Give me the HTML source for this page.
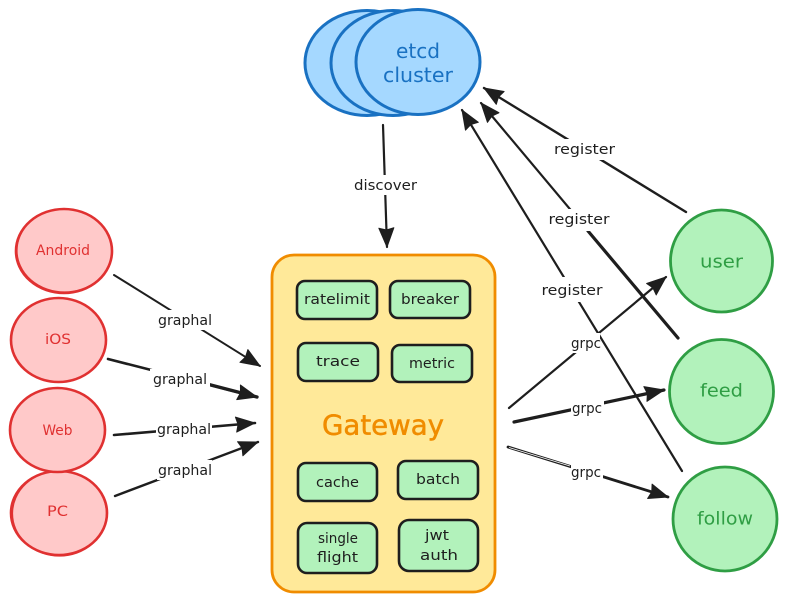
<!DOCTYPE html>
<html><head><meta charset="utf-8"><style>
html,body{margin:0;padding:0;background:#fff}
svg{display:block}
text{font-family:"DejaVu Sans","Liberation Sans",sans-serif;text-anchor:middle;dominant-baseline:central;transform:translateY(1px)}
.l{font-size:14px;fill:#1e1e1e}
.b{font-size:14.5px;fill:#1e1e1e}
.box{fill:#b2f2bb;stroke:#1e1e1e;stroke-width:2.6}
.red{fill:#ffc9c9;stroke:#e03131;stroke-width:2.6}
.redt{fill:#e03131;font-size:14.5px}
.grn{fill:#b2f2bb;stroke:#2f9e44;stroke-width:2.8}
.grnt{fill:#2f9e44;font-size:18px}
.blu{fill:#a5d8ff;stroke:#1971c2;stroke-width:3}
.blut{fill:#1971c2;font-size:20px}
.a{stroke:#1e1e1e;fill:none;stroke-linecap:round}
.sk{fill:none;stroke-width:1.2}
</style></head><body>
<svg width="785" height="602" viewBox="0 0 785 602" xmlns="http://www.w3.org/2000/svg">
<rect width="785" height="602" fill="#fff"/>
<defs>
<marker id="m" markerUnits="userSpaceOnUse" markerWidth="24" markerHeight="20" refX="21" refY="10" orient="auto"><path d="M2,2.500 L21,10 L2,17.500 L4,10 Z" fill="#1e1e1e" stroke="#1e1e1e" stroke-width="1" stroke-linejoin="round"/></marker>
</defs>

<!-- etcd cluster -->
<ellipse class="blu" cx="367" cy="63" rx="62" ry="52.5"/>
<ellipse class="blu" cx="393" cy="63" rx="62" ry="52.5"/>
<ellipse class="blu" cx="418" cy="62" rx="62" ry="52.5"/>
<text class="blut" x="418" y="50" textLength="44" lengthAdjust="spacingAndGlyphs">etcd</text>
<text class="blut" x="418" y="74" textLength="70" lengthAdjust="spacingAndGlyphs">cluster</text>

<!-- clients -->
<ellipse class="red" cx="64" cy="251" rx="48" ry="42"/>
<ellipse class="sk" stroke="#e03131" cx="64.500" cy="250.500" rx="47.500" ry="41.500"/>
<ellipse class="red" cx="58.500" cy="340" rx="47.500" ry="42"/>
<ellipse class="red" cx="59" cy="513" rx="48" ry="42"/>
<ellipse class="sk" stroke="#e03131" cx="59.500" cy="513.500" rx="47" ry="42.500"/>
<ellipse class="red" cx="57.500" cy="430" rx="47.500" ry="42"/>
<text class="redt" x="63" y="250" textLength="54" lengthAdjust="spacingAndGlyphs">Android</text>
<text class="redt" x="58" y="339" textLength="26" lengthAdjust="spacingAndGlyphs">iOS</text>
<text class="redt" x="57.500" y="430" textLength="30" lengthAdjust="spacingAndGlyphs">Web</text>
<text class="redt" x="57.500" y="511" textLength="21" lengthAdjust="spacingAndGlyphs">PC</text>

<!-- services -->
<circle class="grn" cx="721.500" cy="261" r="51"/>
<circle class="grn" cx="721.500" cy="391.500" r="52"/>
<circle class="grn" cx="725" cy="519" r="52"/>
<text class="grnt" x="721.500" y="261" textLength="43" lengthAdjust="spacingAndGlyphs">user</text>
<text class="grnt" x="721.500" y="390" textLength="43" lengthAdjust="spacingAndGlyphs">feed</text>
<text class="grnt" x="725" y="518" textLength="56" lengthAdjust="spacingAndGlyphs">follow</text>

<!-- gateway -->
<rect x="272" y="255" width="223" height="337" rx="22" fill="#ffe999" stroke="#f08c00" stroke-width="2.800"/>
<rect class="box" x="297" y="281" width="80" height="38" rx="8"/>
<rect class="box" x="390" y="281" width="80" height="37" rx="8"/>
<rect class="box" x="298" y="343" width="80" height="38" rx="8"/>
<rect class="box" x="392" y="345" width="80" height="37" rx="8"/>
<rect class="box" x="298" y="463" width="79" height="38" rx="8"/>
<rect class="box" x="398" y="461" width="80" height="38" rx="8"/>
<rect class="box" x="298" y="523" width="79" height="50" rx="9"/>
<rect class="box" x="399" y="520" width="79" height="51" rx="10"/>
<text class="b" x="337" y="299" textLength="66" lengthAdjust="spacingAndGlyphs">ratelimit</text>
<text class="b" x="430" y="299" textLength="58" lengthAdjust="spacingAndGlyphs">breaker</text>
<text class="b" x="338" y="361" textLength="44" lengthAdjust="spacingAndGlyphs">trace</text>
<text class="b" x="432" y="363" textLength="46" lengthAdjust="spacingAndGlyphs">metric</text>
<text class="b" x="337.500" y="482" textLength="43" lengthAdjust="spacingAndGlyphs">cache</text>
<text class="b" x="438" y="479" textLength="44" lengthAdjust="spacingAndGlyphs">batch</text>
<text class="b" x="338" y="538" textLength="40" lengthAdjust="spacingAndGlyphs">single</text>
<text class="b" x="337.500" y="557" textLength="41" lengthAdjust="spacingAndGlyphs">flight</text>
<text class="b" x="437" y="535" textLength="24" lengthAdjust="spacingAndGlyphs">jwt</text>
<text class="b" x="439" y="555" textLength="38" lengthAdjust="spacingAndGlyphs">auth</text>
<text x="383" y="424" font-size="28" fill="#f08c00" stroke="#f08c00" stroke-width=".5" textLength="122" lengthAdjust="spacingAndGlyphs">Gateway</text>

<!-- connectors -->
<line class="a" x1="383" y1="125" x2="387" y2="247" stroke-width="2.200" marker-end="url(#m)"/>
<line class="a" x1="686" y1="212" x2="484" y2="88" stroke-width="2.400" marker-end="url(#m)"/>
<line class="a" x1="678" y1="338" x2="481" y2="103" stroke-width="2.200" marker-end="url(#m)"/>
<line class="a" x1="678" y1="338" x2="588" y2="231" stroke-width="3.200"/>
<line class="a" x1="682" y1="471" x2="462" y2="110" stroke-width="2.200" marker-end="url(#m)"/>
<line class="a" x1="114" y1="275" x2="260" y2="366" stroke-width="2" marker-end="url(#m)"/>
<line class="a" x1="108" y1="359" x2="257" y2="397" stroke-width="2.600" marker-end="url(#m)"/>
<line class="a" x1="207" y1="384" x2="257" y2="397" stroke-width="3.400"/>
<line class="a" x1="114" y1="435" x2="255" y2="423" stroke-width="2.600" marker-end="url(#m)"/>
<line class="a" x1="115" y1="496" x2="258" y2="442" stroke-width="2.400" marker-end="url(#m)"/>
<line class="a" x1="509" y1="408" x2="666" y2="277" stroke-width="2.200" marker-end="url(#m)"/>
<line class="a" x1="514" y1="422" x2="664" y2="390" stroke-width="3.200" marker-end="url(#m)"/>
<line class="a" x1="508" y1="447" x2="668" y2="497" stroke-width="2.800" marker-end="url(#m)"/>
<line x1="509" y1="447.500" x2="570" y2="466" stroke="#fff" stroke-width=".8"/>

<!-- connector labels -->
<g fill="#fff">
<rect x="351" y="175" width="69" height="20"/>
<rect x="551" y="139" width="67" height="21"/>
<rect x="546" y="209" width="67" height="22"/>
<rect x="539" y="277" width="67" height="25"/>
<rect x="155" y="310" width="60" height="20"/>
<rect x="150" y="369" width="60" height="20"/>
<rect x="156" y="419" width="56" height="20"/>
<rect x="157" y="460" width="55" height="20"/>
<rect x="571" y="333" width="29" height="20"/>
<rect x="571" y="398" width="33" height="20"/>
<rect x="571" y="462" width="32" height="20"/>
</g>
<text class="l" x="385.500" y="185" textLength="63" lengthAdjust="spacingAndGlyphs">discover</text>
<text class="l" x="584.500" y="149" textLength="61" lengthAdjust="spacingAndGlyphs">register</text>
<text class="l" x="579" y="219" textLength="61" lengthAdjust="spacingAndGlyphs">register</text>
<text class="l" x="572" y="290" textLength="61" lengthAdjust="spacingAndGlyphs">register</text>
<text class="l" x="185" y="320" textLength="54" lengthAdjust="spacingAndGlyphs">graphal</text>
<text class="l" x="180" y="379" textLength="54" lengthAdjust="spacingAndGlyphs">graphal</text>
<text class="l" x="184" y="429" textLength="54" lengthAdjust="spacingAndGlyphs">graphal</text>
<text class="l" x="185" y="470" textLength="54" lengthAdjust="spacingAndGlyphs">graphal</text>
<text class="l" x="586" y="343" textLength="30" lengthAdjust="spacingAndGlyphs">grpc</text>
<text class="l" x="587" y="408" textLength="30" lengthAdjust="spacingAndGlyphs">grpc</text>
<text class="l" x="586" y="472" textLength="30" lengthAdjust="spacingAndGlyphs">grpc</text>
</svg>
</body></html>
